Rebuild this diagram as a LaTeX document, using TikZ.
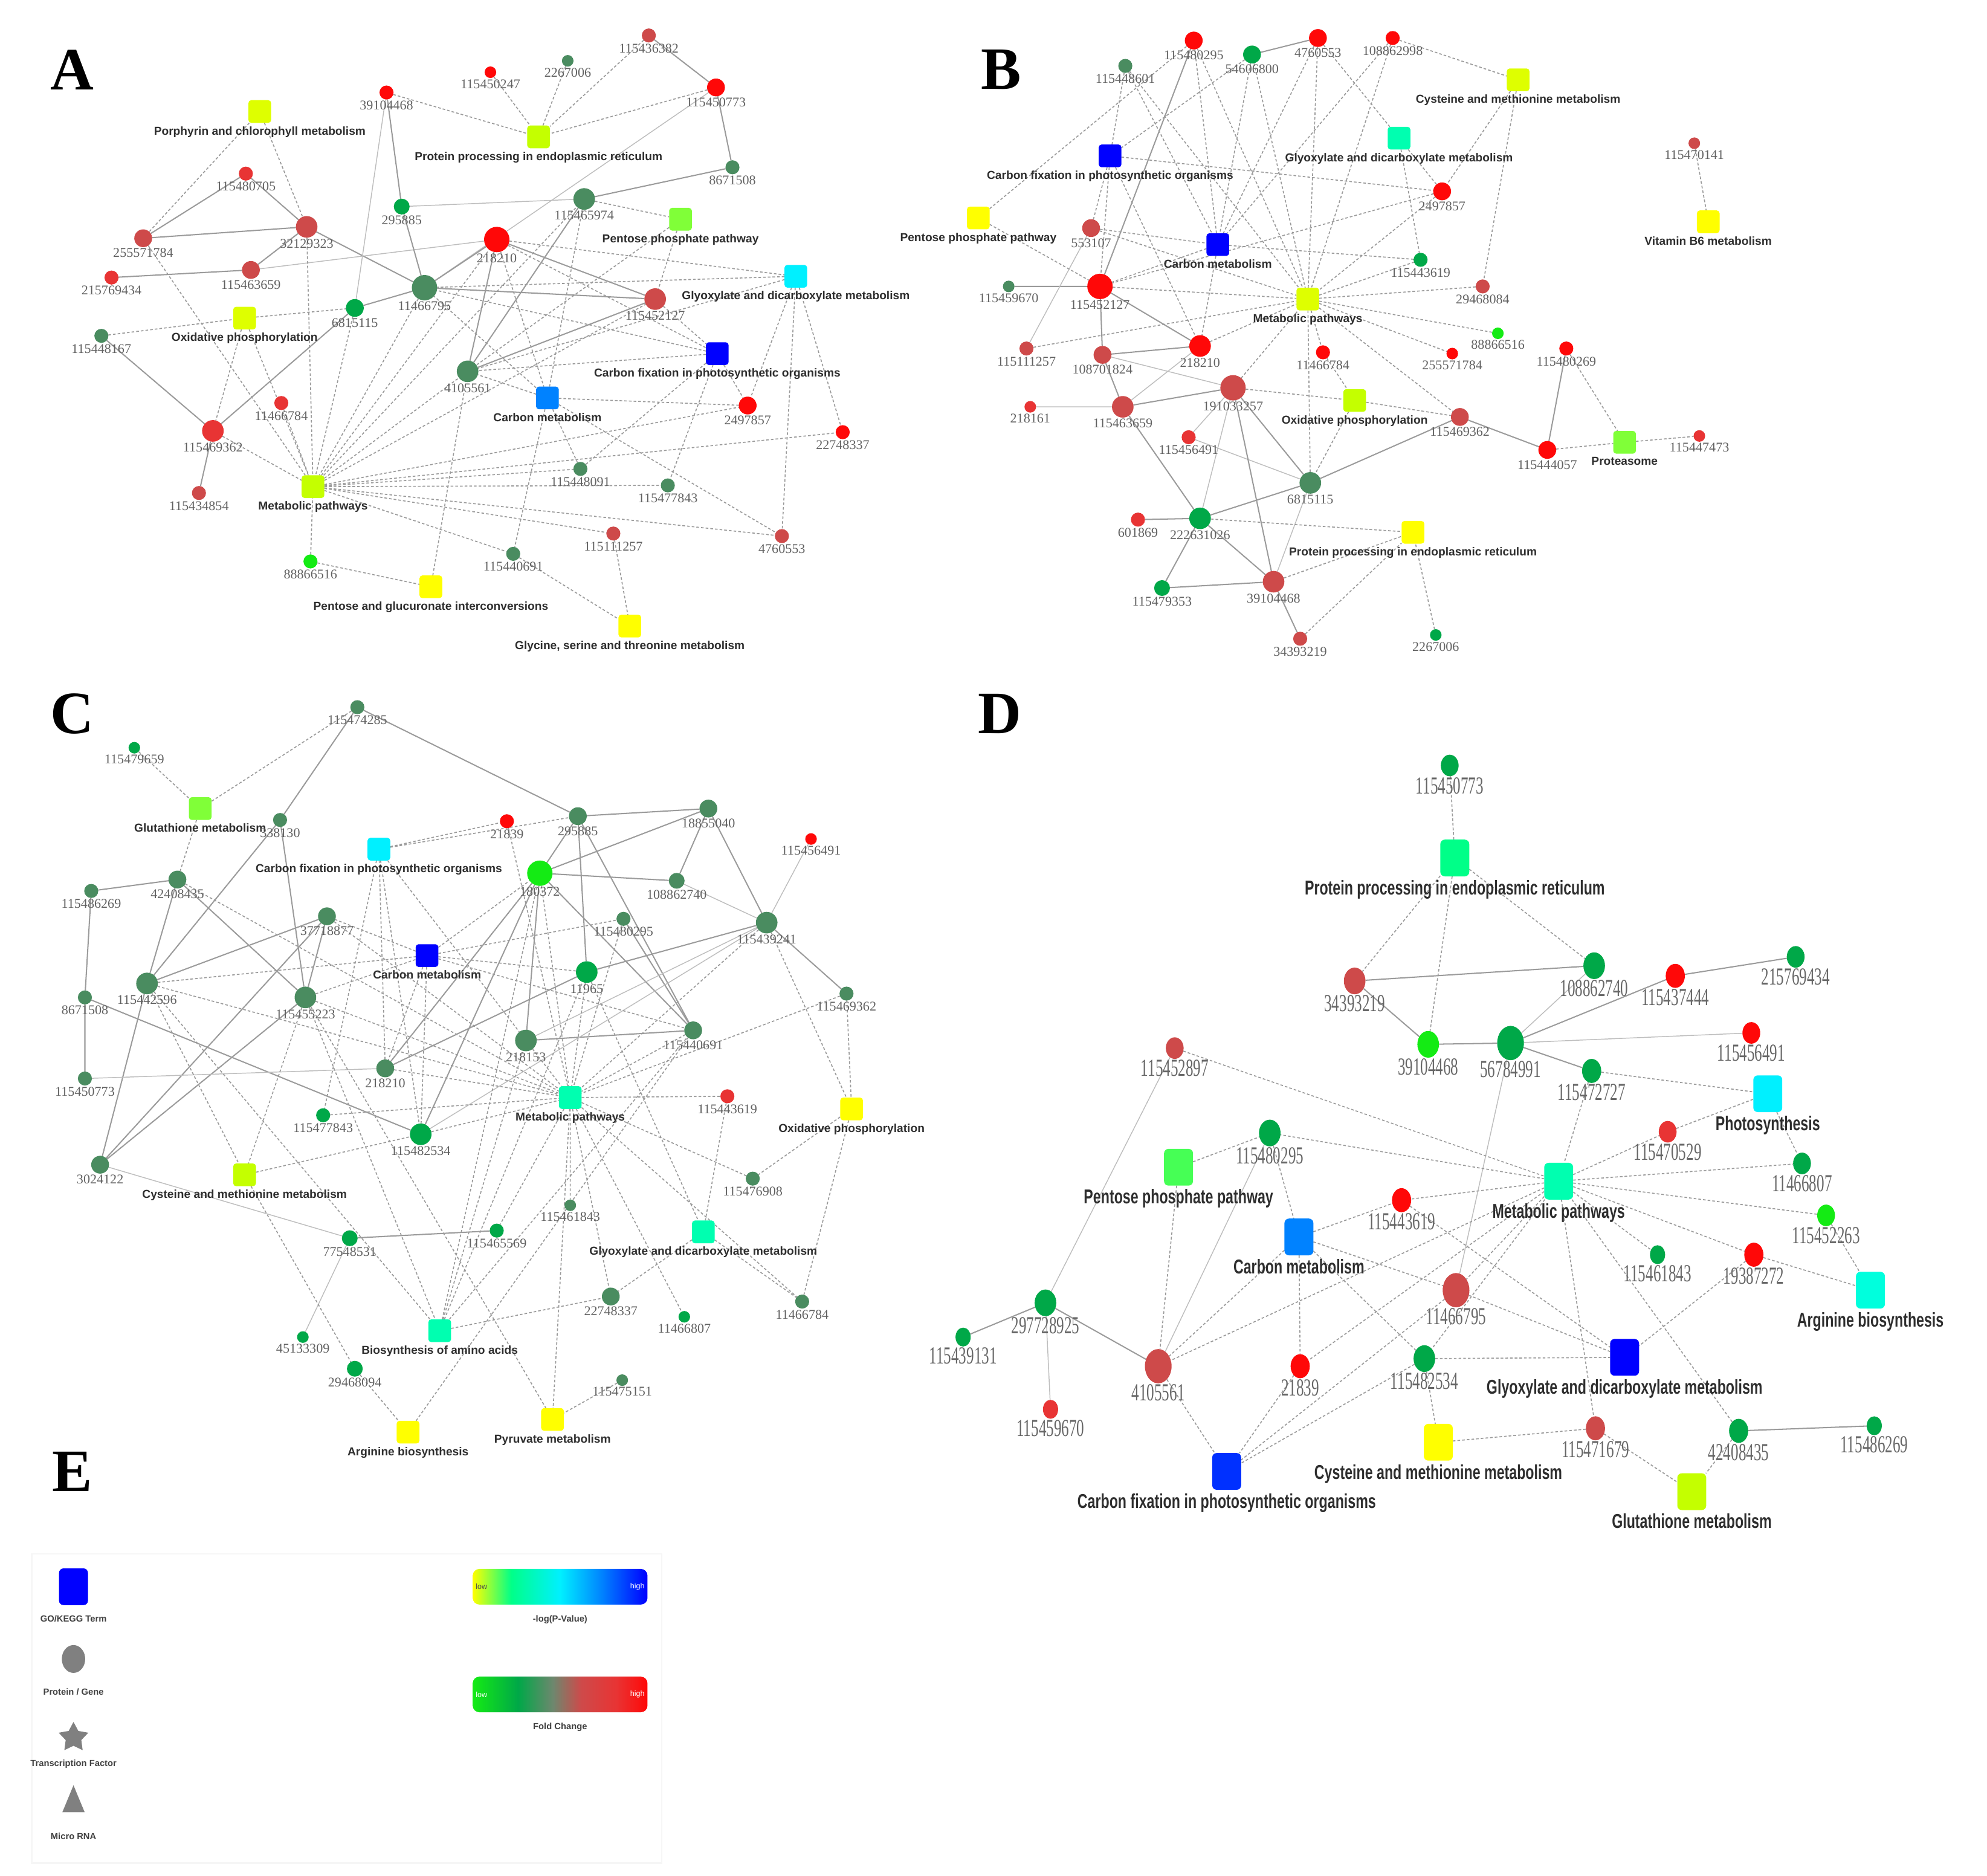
\documentclass[tikz,border=0pt]{standalone}
\usepackage{fontspec}
\setmainfont{Liberation Serif}
\newfontfamily\termfont{Liberation Sans}
\newfontfamily\termfontD[FakeStretch=0.7]{Liberation Sans}
\newfontfamily\numfontD[FakeStretch=0.62]{Liberation Serif}
\usetikzlibrary{shapes.geometric,backgrounds}

\definecolor{fcRed}{RGB}{255,8,8}
\definecolor{fcRedB}{RGB}{232,52,52}
\definecolor{fcRedC}{RGB}{206,74,74}
\definecolor{fcGrnA}{RGB}{20,235,20}
\definecolor{fcGrnB}{RGB}{0,168,72}
\definecolor{fcGrnC}{RGB}{74,140,96}
\definecolor{fcMid}{RGB}{110,135,110}
\definecolor{pvYel}{RGB}{255,255,0}
\definecolor{pvYg}{RGB}{222,255,0}
\definecolor{pvLime}{RGB}{196,255,0}
\definecolor{pvLg}{RGB}{128,255,56}
\definecolor{pvPg}{RGB}{70,255,85}
\definecolor{pvCyan}{RGB}{0,240,255}
\definecolor{pvTeal}{RGB}{0,255,176}
\definecolor{pvMint}{RGB}{0,255,136}
\definecolor{pvAqua}{RGB}{0,255,221}
\definecolor{pvBlue}{RGB}{0,0,255}
\definecolor{pvRoyal}{RGB}{0,48,255}
\definecolor{pvSky}{RGB}{0,130,255}
\definecolor{lineGray}{RGB}{155,155,155}
\definecolor{lgGray}{RGB}{128,128,128}

\pgfdeclarehorizontalshading{pvshade}{100bp}{color(0bp)=(pvYel); color(25bp)=(pvYel); color(36bp)=(pvMint); color(50bp)=(pvCyan); color(62bp)=(pvSky); color(75bp)=(pvBlue); color(100bp)=(pvBlue)}
\pgfdeclarehorizontalshading{fcshade}{100bp}{color(0bp)=(fcGrnA); color(25bp)=(fcGrnA); color(38bp)=(fcGrnB); color(48bp)=(fcMid); color(56bp)=(fcRedC); color(66bp)=(fcRedB); color(75bp)=(fcRed); color(100bp)=(fcRed)}

\begin{document}
\begin{tikzpicture}[
        x=0.02cm, y=-0.02cm,
        gn/.style={circle, inner sep=0pt, outer sep=0pt},
        gSm/.style={gn, minimum size=5.2pt},
        gS/.style={gn, minimum size=6.3pt},
        gSp/.style={gn, minimum size=7.1pt},
        gM/.style={gn, minimum size=8pt},
        gL/.style={gn, minimum size=9.7pt},
        gXL/.style={gn, minimum size=11.4pt},
        tm/.style={rectangle, rounded corners=1.3pt, minimum size=10.2pt, inner sep=0pt, outer sep=0pt},
        dn/.style={ellipse, inner sep=0pt, outer sep=0pt},
        dSm/.style={dn, minimum width=6.8pt, minimum height=8.5pt},
        dS/.style={dn, minimum width=8pt, minimum height=9.7pt},
        dSp/.style={dn, minimum width=8.6pt, minimum height=10.8pt},
        dM/.style={dn, minimum width=9.7pt, minimum height=12pt},
        dL/.style={dn, minimum width=12pt, minimum height=15.4pt},
        dtm/.style={rectangle, rounded corners=2pt, minimum width=13pt, minimum height=16.5pt, inner sep=0pt, outer sep=0pt},
        every label/.style={font=\fontsize{6}{6}\selectfont, text=black!62, inner sep=0.4pt},
        tl/.style={font=\termfont\bfseries\fontsize{5.2}{5.2}\selectfont, text=black!82, inner sep=1.4pt},
        dnl/.style={font=\numfontD\fontsize{11}{11}\selectfont, text=black!60, inner sep=0.3pt},
        dtl/.style={font=\termfontD\bfseries\fontsize{9}{9}\selectfont, text=black!82, inner sep=1.5pt},
        lgl/.style={font=\termfont\bfseries\fontsize{4}{4}\selectfont, text=black!75, inner sep=0pt},
        lgt/.style={font=\termfont\fontsize{3.4}{3.4}\selectfont, inner sep=0pt},
        pan/.style={font=\bfseries\fontsize{27}{27}\selectfont, inner sep=0pt},
        sl/.style={lineGray, line width=0.55pt},
        fl/.style={lineGray!65, line width=0.4pt},
        dl/.style={lineGray, line width=0.45pt, dash pattern=on 1.2pt off 0.9pt}
    ]
    \useasboundingbox (0,0) rectangle (1568,1480);

    % panel A
    \node[pan] (pA) at (57,55) {A};
    \node[tm, fill=pvYg, label={[tl]below:Porphyrin and chlorophyll metabolism}] (aPor) at (205,88) {};
    \node[tm, fill=pvLime, label={[tl]below:Protein processing in endoplasmic reticulum}] (aPro) at (425,108) {};
    \node[tm, fill=pvLg, label={[tl]below:Pentose phosphate pathway}] (aPpp) at (537,173) {};
    \node[tm, fill=pvCyan, label={[tl]below:Glyoxylate and dicarboxylate metabolism}] (aGly) at (628,218) {};
    \node[tm, fill=pvYg, label={[tl]below:Oxidative phosphorylation}] (aOxi) at (193,251) {};
    \node[tm, fill=pvBlue, label={[tl]below:Carbon fixation in photosynthetic organisms}] (aCfx) at (566,279) {};
    \node[tm, fill=pvSky, label={[tl]below:Carbon metabolism}] (aCmt) at (432,314) {};
    \node[tm, fill=pvLime, label={[tl]below:Metabolic pathways}] (aMet) at (247,384) {};
    \node[tm, fill=pvYel, label={[tl]below:Pentose and glucuronate interconversions}] (aPgi) at (340,463) {};
    \node[tm, fill=pvYel, label={[tl]below:{Glycine, serine and threonine metabolism}}] (aGst) at (497,494) {};

    \node[gS, fill=fcRed, label=below:39104468] (a39104468) at (305,73) {};
    \node[gSm, fill=fcRed, label=below:115450247] (a115450247) at (387,57) {};
    \node[gSm, fill=fcGrnC, label=below:2267006] (a2267006) at (448,48) {};
    \node[gS, fill=fcRedC, label=below:115436382] (a115436382) at (512,28) {};
    \node[gM, fill=fcRed, label=below:115450773] (a115450773) at (565,69) {};
    \node[gS, fill=fcGrnC, label=below:8671508] (a8671508) at (578,132) {};
    \node[gS, fill=fcRedB, label=below:115480705] (a115480705) at (194,137) {};
    \node[gL, fill=fcRedC, label=below:32129323] (a32129323) at (242,179) {};
    \node[gM, fill=fcRedC, label=below:255571784] (a255571784) at (113,188) {};
    \node[gS, fill=fcRedB, label=below:215769434] (a215769434) at (88,219) {};
    \node[gM, fill=fcRedC, label=below:115463659] (a115463659) at (198,213) {};
    \node[gSp, fill=fcGrnB, label=below:295885] (a295885) at (317,163) {};
    \node[gL, fill=fcGrnC, label=below:115465974] (a115465974) at (461,157) {};
    \node[gXL, fill=fcRed, label=below:218210] (a218210) at (392,189) {};
    \node[gL, fill=fcRedC, label=below:115452127] (a115452127) at (517,236) {};
    \node[gXL, fill=fcGrnC, label=below:11466795] (a11466795) at (335,227) {};
    \node[gM, fill=fcGrnB, label=below:6815115] (a6815115) at (280,243) {};
    \node[gS, fill=fcGrnC, label=below:115448167] (a115448167) at (80,265) {};
    \node[gL, fill=fcGrnC, label=below:4105561] (a4105561) at (369,293) {};
    \node[gM, fill=fcRed, label=below:2497857] (a2497857) at (590,320) {};
    \node[gS, fill=fcRed, label=below:22748337] (a22748337) at (665,341) {};
    \node[gS, fill=fcRedB, label=below:11466784] (a11466784) at (222,318) {};
    \node[gL, fill=fcRedB, label=below:115469362] (a115469362) at (168,340) {};
    \node[gS, fill=fcRedC, label=below:115434854] (a115434854) at (157,389) {};
    \node[gS, fill=fcGrnC, label=below:115448091] (a115448091) at (458,370) {};
    \node[gS, fill=fcGrnC, label=below:115477843] (a115477843) at (527,383) {};
    \node[gS, fill=fcRedC, label=below:115111257] (a115111257) at (484,421) {};
    \node[gS, fill=fcRedC, label=below:4760553] (a4760553) at (617,423) {};
    \node[gS, fill=fcGrnC, label=below:115440691] (a115440691) at (405,437) {};
    \node[gS, fill=fcGrnA, label=below:88866516] (a88866516) at (245,443) {};

    % panel B
    \node[pan] (pB) at (790,55) {B};
    \node[tm, fill=pvBlue, label={[tl]below:Carbon fixation in photosynthetic organisms}] (bCfx) at (876,123) {};
    \node[tm, fill=pvYel, label={[tl]below:Pentose phosphate pathway}] (bPpp) at (772,172) {};
    \node[tm, fill=pvBlue, label={[tl]below:Carbon metabolism}] (bCmt) at (961,193) {};
    \node[tm, fill=pvTeal, label={[tl]below:Glyoxylate and dicarboxylate metabolism}] (bGly) at (1104,109) {};
    \node[tm, fill=pvYg, label={[tl]below:Cysteine and methionine metabolism}] (bCys) at (1198,63) {};
    \node[tm, fill=pvYg, label={[tl]below:Metabolic pathways}] (bMet) at (1032,236) {};
    \node[tm, fill=pvLime, label={[tl]below:Oxidative phosphorylation}] (bOxi) at (1069,316) {};
    \node[tm, fill=pvYel, label={[tl]below:Protein processing in endoplasmic reticulum}] (bPro) at (1115,420) {};
    \node[tm, fill=pvLg, label={[tl]below:Proteasome}] (bPsm) at (1282,349) {};
    \node[tm, fill=pvYel, label={[tl]below:Vitamin B6 metabolism}] (bVb6) at (1348,175) {};

    \node[gS, fill=fcGrnC, label=below:115448601] (b115448601) at (888,52) {};
    \node[gM, fill=fcRed, label=below:115480295] (b115480295) at (942,32) {};
    \node[gM, fill=fcGrnB, label=below:54606800] (b54606800) at (988,43) {};
    \node[gM, fill=fcRed, label=below:4760553] (b4760553) at (1040,30) {};
    \node[gS, fill=fcRed, label=below:108862998] (b108862998) at (1099,30) {};
    \node[gM, fill=fcRedC, label=below:553107] (b553107) at (861,180) {};
    \node[gM, fill=fcRed, label=below:2497857] (b2497857) at (1138,151) {};
    \node[gS, fill=fcGrnB, label=below:115443619] (b115443619) at (1121,205) {};
    \node[gXL, fill=fcRed, label=below:115452127] (b115452127) at (868,226) {};
    \node[gSm, fill=fcGrnC, label=below:115459670] (b115459670) at (796,226) {};
    \node[gS, fill=fcRedC, label=below:115111257] (b115111257) at (810,275) {};
    \node[gM, fill=fcRedC, label=below:108701824] (b108701824) at (870,280) {};
    \node[gL, fill=fcRed, label=below:218210] (b218210) at (947,273) {};
    \node[gS, fill=fcRed, label=below:11466784] (b11466784) at (1044,278) {};
    \node[gSm, fill=fcRed, label=below:255571784] (b255571784) at (1146,279) {};
    \node[gXL, fill=fcRedC, label=below:191033257] (b191033257) at (973,306) {};
    \node[gSm, fill=fcRedB, label=below:218161] (b218161) at (813,321) {};
    \node[gL, fill=fcRedC, label=below:115463659] (b115463659) at (886,321) {};
    \node[gS, fill=fcRedB, label=below:115456491] (b115456491) at (938,345) {};
    \node[gM, fill=fcRedC, label=below:115469362] (b115469362) at (1152,329) {};
    \node[gL, fill=fcGrnC, label=below:6815115] (b6815115) at (1034,381) {};
    \node[gS, fill=fcRedB, label=below:601869] (b601869) at (898,410) {};
    \node[gL, fill=fcGrnB, label=below:222631026] (b222631026) at (947,409) {};
    \node[gSp, fill=fcGrnB, label=below:115479353] (b115479353) at (917,464) {};
    \node[gL, fill=fcRedC, label=below:39104468] (b39104468) at (1005,459) {};
    \node[gS, fill=fcRedC, label=below:34393219] (b34393219) at (1026,504) {};
    \node[gSm, fill=fcGrnB, label=below:2267006] (b2267006) at (1133,501) {};
    \node[gS, fill=fcRedC, label=below:29468084] (b29468084) at (1170,226) {};
    \node[gSm, fill=fcGrnA, label=below:88866516] (b88866516) at (1182,263) {};
    \node[gS, fill=fcRed, label=below:115480269] (b115480269) at (1236,275) {};
    \node[gM, fill=fcRed, label=below:115444057] (b115444057) at (1221,355) {};
    \node[gSm, fill=fcRedB, label=below:115447473] (b115447473) at (1341,344) {};
    \node[gSm, fill=fcRedC, label=below:115470141] (b115470141) at (1337,113) {};

    % panel C
    \node[pan] (pC) at (57,563) {C};
    \node[tm, fill=pvLg, label={[tl]below:Glutathione metabolism}] (cGsh) at (158,638) {};
    \node[tm, fill=pvCyan, label={[tl]below:Carbon fixation in photosynthetic organisms}] (cCfx) at (299,670) {};
    \node[tm, fill=pvBlue, label={[tl]below:Carbon metabolism}] (cCmt) at (337,754) {};
    \node[tm, fill=pvLime, label={[tl]below:Cysteine and methionine metabolism}] (cCys) at (193,927) {};
    \node[tm, fill=pvTeal, label={[tl]below:Biosynthesis of amino acids}] (cBio) at (347,1050) {};
    \node[tm, fill=pvYel, label={[tl]below:Arginine biosynthesis}] (cArg) at (322,1130) {};
    \node[tm, fill=pvTeal, label={[tl]below:Metabolic pathways}] (cMet) at (450,866) {};
    \node[tm, fill=pvYel, label={[tl]below:Oxidative phosphorylation}] (cOxi) at (672,875) {};
    \node[tm, fill=pvTeal, label={[tl]below:Glyoxylate and dicarboxylate metabolism}] (cGly) at (555,972) {};
    \node[tm, fill=pvYel, label={[tl]below:Pyruvate metabolism}] (cPyr) at (436,1120) {};

    \node[gS, fill=fcGrnC, label=below:115474285] (c115474285) at (282,558) {};
    \node[gSm, fill=fcGrnB, label=below:115479659] (c115479659) at (106,590) {};
    \node[gS, fill=fcGrnC, label=below:338130] (c338130) at (221,647) {};
    \node[gS, fill=fcGrnC, label=below:115486269] (c115486269) at (72,703) {};
    \node[gM, fill=fcGrnC, label=below:42408435] (c42408435) at (140,694) {};
    \node[gM, fill=fcGrnC, label=below:37718877] (c37718877) at (258,723) {};
    \node[gL, fill=fcGrnC, label=below:115442596] (c115442596) at (116,776) {};
    \node[gS, fill=fcGrnC, label=below:8671508] (c8671508) at (67,787) {};
    \node[gL, fill=fcGrnC, label=below:115455223] (c115455223) at (241,787) {};
    \node[gM, fill=fcGrnC, label=below:218210] (c218210) at (304,843) {};
    \node[gS, fill=fcGrnC, label=below:115450773] (c115450773) at (67,851) {};
    \node[gS, fill=fcGrnB, label=below:115477843] (c115477843) at (255,880) {};
    \node[gL, fill=fcGrnB, label=below:115482534] (c115482534) at (332,895) {};
    \node[gM, fill=fcGrnC, label=below:3024122] (c3024122) at (79,919) {};
    \node[gSp, fill=fcGrnB, label=below:77548531] (c77548531) at (276,977) {};
    \node[gSm, fill=fcGrnB, label=below:45133309] (c45133309) at (239,1055) {};
    \node[gSp, fill=fcGrnB, label=below:29468094] (c29468094) at (280,1080) {};
    \node[gS, fill=fcRed, label=below:21839] (c21839) at (400,648) {};
    \node[gM, fill=fcGrnC, label=below:295885] (c295885) at (456,644) {};
    \node[gM, fill=fcGrnC, label=below:18855040] (c18855040) at (559,638) {};
    \node[gSm, fill=fcRed, label=below:115456491] (c115456491) at (640,662) {};
    \node[gXL, fill=fcGrnA, label=below:180372] (c180372) at (426,689) {};
    \node[gSp, fill=fcGrnC, label=below:108862740] (c108862740) at (534,695) {};
    \node[gS, fill=fcGrnC, label=below:115480295] (c115480295) at (492,725) {};
    \node[gL, fill=fcGrnC, label=below:115439241] (c115439241) at (605,728) {};
    \node[gL, fill=fcGrnB, label=below:11965] (c11965) at (463,767) {};
    \node[gS, fill=fcGrnC, label=below:115469362] (c115469362) at (668,784) {};
    \node[gM, fill=fcGrnC, label=below:115440691] (c115440691) at (547,813) {};
    \node[gL, fill=fcGrnC, label=below:218153] (c218153) at (415,821) {};
    \node[gS, fill=fcRedB, label=below:115443619] (c115443619) at (574,865) {};
    \node[gS, fill=fcGrnC, label=below:115476908] (c115476908) at (594,930) {};
    \node[gSm, fill=fcGrnC, label=below:115461843] (c115461843) at (450,951) {};
    \node[gS, fill=fcGrnB, label=below:115465569] (c115465569) at (392,971) {};
    \node[gM, fill=fcGrnC, label=below:22748337] (c22748337) at (482,1023) {};
    \node[gSm, fill=fcGrnB, label=below:11466807] (c11466807) at (540,1039) {};
    \node[gS, fill=fcGrnC, label=below:11466784] (c11466784) at (633,1027) {};
    \node[gSm, fill=fcGrnC, label=below:115475151] (c115475151) at (491,1089) {};

    % panel D
    \node[pan] (pD) at (789,563) {D};
    \node[dtm, fill=pvMint, label={[dtl]below:Protein processing in endoplasmic reticulum}] (dPro) at (1148,677) {};
    \node[dtm, fill=pvCyan, label={[dtl]below:Photosynthesis}] (dPho) at (1395,863) {};
    \node[dtm, fill=pvPg, label={[dtl]below:Pentose phosphate pathway}] (dPpp) at (930,921) {};
    \node[dtm, fill=pvTeal, label={[dtl]below:Metabolic pathways}] (dMet) at (1230,932) {};
    \node[dtm, fill=pvSky, label={[dtl]below:Carbon metabolism}] (dCmt) at (1025,976) {};
    \node[dtm, fill=pvAqua, label={[dtl]below:Arginine biosynthesis}] (dArg) at (1476,1018) {};
    \node[dtm, fill=pvBlue, label={[dtl]below:Glyoxylate and dicarboxylate metabolism}] (dGly) at (1282,1071) {};
    \node[dtm, fill=pvYel, label={[dtl]below:Cysteine and methionine metabolism}] (dCys) at (1135,1138) {};
    \node[dtm, fill=pvRoyal, label={[dtl]below:Carbon fixation in photosynthetic organisms}] (dCfx) at (968,1161) {};
    \node[dtm, fill=pvLime, label={[dtl]below:Glutathione metabolism}] (dGsh) at (1335,1177) {};

    \node[dS, fill=fcGrnB, label={[dnl]below:115450773}] (d115450773) at (1144,604) {};
    \node[dM, fill=fcRedC, label={[dnl]below:34393219}] (d34393219) at (1069,774) {};
    \node[dM, fill=fcGrnB, label={[dnl]below:108862740}] (d108862740) at (1258,762) {};
    \node[dSp, fill=fcRed, label={[dnl]below:115437444}] (d115437444) at (1322,770) {};
    \node[dS, fill=fcGrnB, label={[dnl]below:215769434}] (d215769434) at (1417,755) {};
    \node[dM, fill=fcGrnA, label={[dnl]below:39104468}] (d39104468) at (1127,824) {};
    \node[dL, fill=fcGrnB, label={[dnl]below:56784991}] (d56784991) at (1192,823) {};
    \node[dS, fill=fcRed, label={[dnl]below:115456491}] (d115456491) at (1382,815) {};
    \node[dS, fill=fcRedC, label={[dnl]below:115452897}] (d115452897) at (927,827) {};
    \node[dSp, fill=fcGrnB, label={[dnl]below:115472727}] (d115472727) at (1256,845) {};
    \node[dM, fill=fcGrnB, label={[dnl]below:115480295}] (d115480295) at (1002,894) {};
    \node[dS, fill=fcRedB, label={[dnl]below:115470529}] (d115470529) at (1316,893) {};
    \node[dS, fill=fcGrnB, label={[dnl]below:11466807}] (d11466807) at (1422,918) {};
    \node[dSp, fill=fcRed, label={[dnl]below:115443619}] (d115443619) at (1106,947) {};
    \node[dS, fill=fcGrnA, label={[dnl]below:115452263}] (d115452263) at (1441,959) {};
    \node[dSm, fill=fcGrnB, label={[dnl]below:115461843}] (d115461843) at (1308,990) {};
    \node[dSp, fill=fcRed, label={[dnl]below:19387272}] (d19387272) at (1384,990) {};
    \node[dL, fill=fcRedC, label={[dnl]below:11466795}] (d11466795) at (1149,1018) {};
    \node[dM, fill=fcGrnB, label={[dnl]below:297728925}] (d297728925) at (825,1028) {};
    \node[dSm, fill=fcGrnB, label={[dnl]below:115439131}] (d115439131) at (760,1055) {};
    \node[dL, fill=fcRedC, label={[dnl]below:4105561}] (d4105561) at (914,1078) {};
    \node[dSp, fill=fcRed, label={[dnl]below:21839}] (d21839) at (1026,1078) {};
    \node[dM, fill=fcGrnB, label={[dnl]below:115482534}] (d115482534) at (1124,1072) {};
    \node[dSm, fill=fcRedB, label={[dnl]below:115459670}] (d115459670) at (829,1112) {};
    \node[dSp, fill=fcRedC, label={[dnl]below:115471679}] (d115471679) at (1259,1127) {};
    \node[dSp, fill=fcGrnB, label={[dnl]below:42408435}] (d42408435) at (1372,1129) {};
    \node[dSm, fill=fcGrnB, label={[dnl]below:115486269}] (d115486269) at (1479,1125) {};

    % panel E
    \node[pan] (pE) at (57,1161) {E};
    \draw[gray!7, line width=0.6pt] (25,1226) rectangle (522,1470);
    \node[dtm, fill=pvBlue] (eTerm) at (58,1252) {};
    \node[lgl] (eTermTx) at (58,1277) {GO/KEGG Term};
    \node[ellipse, fill=lgGray, minimum width=10.5pt, minimum height=12.5pt, inner sep=0pt] (eGene) at (58,1309) {};
    \node[lgl] (eGeneTx) at (58,1335) {Protein / Gene};
    \node[star, star points=5, star point ratio=1.9, fill=lgGray, minimum size=14pt, inner sep=0pt] (eTf) at (58,1371) {};
    \node[lgl] (eTfTx) at (58,1392) {Transcription Factor};
    \node[isosceles triangle, isosceles triangle apex angle=45, shape border rotate=90, fill=lgGray, minimum size=10pt, inner sep=0pt] (eMir) at (58,1424) {};
    \node[lgl] (eMirTx) at (58,1449) {Micro RNA};
    \node[rounded corners=3pt, minimum width=78.5pt, minimum height=16pt, inner sep=0pt, shade, shading=pvshade] (ePv) at (442,1252) {};
    \node[lgt, text=black!70] (ePvLo) at (380,1252) {low};
    \node[lgt, text=white] (ePvHi) at (503,1252) {high};
    \node[lgl] (ePvTx) at (442,1278) {-log(P-Value)};
    \node[rounded corners=3pt, minimum width=78.5pt, minimum height=16pt, inner sep=0pt, shade, shading=fcshade] (eFc) at (442,1337) {};
    \node[lgt, text=white] (eFcLo) at (380,1337) {low};
    \node[lgt, text=white] (eFcHi) at (503,1337) {high};
    \node[lgl] (eFcTx) at (442,1363) {Fold Change};

    \begin{scope}[on background layer]
        % A edges
        \draw[sl] (a115480705) -- (a255571784) (a115480705) -- (a32129323) (a255571784) -- (a32129323);
        \draw[sl] (a32129323) -- (a115463659) (a215769434) -- (a115463659) (a32129323) -- (a11466795);
        \draw[fl] (a115463659) -- (a218210) (a39104468) -- (a6815115) (a295885) -- (a115465974) (a115450773) -- (a11466795);
        \draw[sl] (a39104468) -- (a295885) (a295885) -- (a11466795) (a6815115) -- (a11466795);
        \draw[sl] (a115448167) -- (a115469362) (a115469362) -- (a6815115) (a115469362) -- (a115434854);
        \draw[sl] (a11466795) -- (a218210) (a218210) -- (a4105561) (a218210) -- (a115452127);
        \draw[sl] (a115465974) -- (a4105561) (a115452127) -- (a4105561) (a115452127) -- (a11466795);
        \draw[sl] (a115436382) -- (a115450773) (a115450773) -- (a8671508) (a8671508) -- (a115465974);
        \draw[dl] (aPor) -- (a255571784) (aPor) -- (a32129323) (a255571784) -- (aMet) (a32129323) -- (aMet);
        \draw[dl] (a115448167) -- (aOxi) (aOxi) -- (a6815115) (aOxi) -- (a115469362) (aOxi) -- (aMet);
        \draw[dl] (a11466784) -- (aMet) (a115469362) -- (aMet) (a6815115) -- (aMet) (a11466795) -- (aMet);
        \draw[dl] (a88866516) -- (aMet) (a88866516) -- (aPgi) (aPgi) -- (a4105561);
        \draw[dl] (a39104468) -- (aPro) (a115450247) -- (aPro) (a2267006) -- (aPro) (a115436382) -- (aPro) (a115450773) -- (aPro);
        \draw[dl] (a115465974) -- (aPpp) (a115465974) -- (aCmt) (a218210) -- (aGly) (a218210) -- (aCfx) (a218210) -- (aCmt);
        \draw[dl] (aPpp) -- (a115452127) (aPpp) -- (a4105561) (a115452127) -- (aCfx);
        \draw[dl] (aGly) -- (a11466795) (aGly) -- (a2497857) (aGly) -- (a4760553) (aGly) -- (a22748337) (aGly) -- (a4105561);
        \draw[dl] (aCfx) -- (a4105561) (aCfx) -- (a115448091) (aCfx) -- (a115477843) (aCfx) -- (a2497857) (aCfx) -- (a11466795);
        \draw[dl] (aCmt) -- (a4105561) (aCmt) -- (a2497857) (aCmt) -- (a115448091) (aCmt) -- (a4760553) (aCmt) -- (a115440691) (aCmt) -- (a11466795);
        \draw[dl] (aMet) -- (a4105561) (aMet) -- (a218210) (aMet) -- (a115452127) (aMet) -- (a115465974);
        \draw[dl] (aMet) -- (a115448091) (aMet) -- (a115477843) (aMet) -- (a115111257) (aMet) -- (a4760553);
        \draw[dl] (aMet) -- (a115440691) (aMet) -- (a22748337) (aMet) -- (a2497857);
        \draw[dl] (a115111257) -- (aGst) (a115440691) -- (aGst);

        % B edges
        \draw[sl] (b115480295) -- (b115452127) (b54606800) -- (b4760553) (b115459670) -- (b115452127);
        \draw[sl] (b115452127) -- (b218210) (b115452127) -- (b108701824) (b108701824) -- (b218210) (b108701824) -- (b115463659);
        \draw[fl] (b553107) -- (b115111257) (b108701824) -- (b191033257) (b218210) -- (b115463659) (b191033257) -- (b222631026);
        \draw[fl] (b191033257) -- (b115456491) (b218161) -- (b115463659) (b115456491) -- (b6815115) (b6815115) -- (b39104468);
        \draw[sl] (b191033257) -- (b115463659) (b191033257) -- (b6815115) (b191033257) -- (b39104468) (b115463659) -- (b222631026);
        \draw[sl] (b6815115) -- (b222631026) (b6815115) -- (b115469362) (b601869) -- (b222631026) (b222631026) -- (b115479353);
        \draw[sl] (b222631026) -- (b39104468) (b115479353) -- (b39104468) (b39104468) -- (b34393219);
        \draw[sl] (b115469362) -- (b115444057) (b115444057) -- (b115480269);
        \draw[dl] (bPpp) -- (b115480295) (bPpp) -- (b115452127);
        \draw[dl] (b115448601) -- (bCfx) (b115448601) -- (bCmt) (b115448601) -- (bMet);
        \draw[dl] (b115480295) -- (bCmt) (b115480295) -- (bMet) (b54606800) -- (bCfx) (b54606800) -- (bCmt) (b54606800) -- (bMet);
        \draw[dl] (b4760553) -- (bCmt) (b4760553) -- (bMet) (b4760553) -- (bGly);
        \draw[dl] (b108862998) -- (bCmt) (b108862998) -- (bMet) (b108862998) -- (bCys) (bCys) -- (b2497857) (bCys) -- (b29468084);
        \draw[dl] (bCfx) -- (b553107) (bCfx) -- (b115452127) (bCfx) -- (b2497857) (bCfx) -- (b218210);
        \draw[dl] (b553107) -- (bCmt) (b553107) -- (bMet) (bCmt) -- (b115452127) (bCmt) -- (b218210) (bCmt) -- (b115443619);
        \draw[dl] (bGly) -- (b2497857) (bGly) -- (b115443619) (b2497857) -- (bMet) (b2497857) -- (b115452127);
        \draw[dl] (b115452127) -- (bMet) (b115111257) -- (bMet) (b218210) -- (bMet) (b191033257) -- (bMet) (b191033257) -- (bOxi);
        \draw[dl] (bMet) -- (b6815115) (bMet) -- (b11466784) (bMet) -- (b255571784) (bMet) -- (b115469362);
        \draw[dl] (bMet) -- (b29468084) (bMet) -- (b88866516) (bMet) -- (b115443619);
        \draw[dl] (b11466784) -- (bOxi) (bOxi) -- (b115469362) (bOxi) -- (b6815115);
        \draw[dl] (b222631026) -- (bPro) (b39104468) -- (bPro) (b34393219) -- (bPro) (b2267006) -- (bPro);
        \draw[dl] (b115444057) -- (bPsm) (b115480269) -- (bPsm) (bPsm) -- (b115447473) (b115470141) -- (bVb6);

        % C edges
        \draw[sl] (c115474285) -- (c338130) (c115474285) -- (c295885) (c338130) -- (c115455223) (c338130) -- (c115442596);
        \draw[sl] (c42408435) -- (c115486269) (c42408435) -- (c115442596) (c42408435) -- (c115455223);
        \draw[sl] (c115486269) -- (c8671508) (c8671508) -- (c115450773) (c8671508) -- (c115482534);
        \draw[sl] (c115442596) -- (c37718877) (c115442596) -- (c3024122) (c3024122) -- (c37718877) (c3024122) -- (c115455223);
        \draw[sl] (c37718877) -- (c115455223) (c218210) -- (c180372) (c218210) -- (c11965) (c115482534) -- (c180372);
        \draw[sl] (c77548531) -- (c115465569) (c295885) -- (c18855040) (c295885) -- (c180372) (c295885) -- (c11965);
        \draw[sl] (c295885) -- (c115440691) (c18855040) -- (c108862740) (c18855040) -- (c180372) (c18855040) -- (c115439241);
        \draw[sl] (c180372) -- (c108862740) (c180372) -- (c218153) (c180372) -- (c115440691);
        \draw[sl] (c115439241) -- (c115469362) (c115439241) -- (c11965) (c115480295) -- (c115440691) (c115440691) -- (c218153);
        \draw[fl] (c115450773) -- (c218210) (c3024122) -- (c77548531) (c77548531) -- (c45133309) (c108862740) -- (c115439241);
        \draw[fl] (c115456491) -- (c115439241) (c218153) -- (c115439241) (c115482534) -- (c115439241);
        \draw[dl] (c115474285) -- (cGsh) (c115479659) -- (cGsh) (cGsh) -- (c42408435);
        \draw[dl] (c115442596) -- (cCmt) (c115442596) -- (cMet) (c115442596) -- (cCys) (c115442596) -- (cBio);
        \draw[dl] (c115455223) -- (cCys) (c115455223) -- (cCmt) (c115455223) -- (cBio) (c115455223) -- (cMet) (c115455223) -- (cPyr);
        \draw[dl] (c42408435) -- (cMet) (cCfx) -- (c218210) (cCfx) -- (c115482534) (cCfx) -- (c115477843);
        \draw[dl] (cCfx) -- (c21839) (cCfx) -- (c295885) (cCfx) -- (c218153);
        \draw[dl] (cCmt) -- (c218210) (cCmt) -- (c115482534) (cCmt) -- (c180372) (cCmt) -- (c11965);
        \draw[dl] (cCmt) -- (c115440691) (cCmt) -- (c115480295) (cCmt) -- (c37718877);
        \draw[dl] (c37718877) -- (cMet) (c115477843) -- (cMet) (c115482534) -- (cMet) (c218210) -- (cMet);
        \draw[dl] (cCys) -- (c115482534) (cCys) -- (c29468094) (c29468094) -- (cArg);
        \draw[dl] (cBio) -- (c180372) (cBio) -- (c218153) (cBio) -- (c11965) (cBio) -- (c22748337) (cBio) -- (c115440691);
        \draw[dl] (cArg) -- (c115440691) (c21839) -- (cMet) (c180372) -- (cMet) (c218153) -- (cMet) (c11965) -- (cMet);
        \draw[dl] (c115480295) -- (cMet) (c115440691) -- (cMet) (c115469362) -- (cMet) (c115439241) -- (cMet);
        \draw[dl] (cMet) -- (c115443619) (cMet) -- (c115476908) (cMet) -- (c115461843) (cMet) -- (c22748337);
        \draw[dl] (cMet) -- (c11466807) (cMet) -- (c11466784) (cMet) -- (cPyr) (cMet) -- (c115465569);
        \draw[dl] (c115443619) -- (cGly) (c11965) -- (cGly) (c115439241) -- (cOxi) (c115469362) -- (cOxi);
        \draw[dl] (cOxi) -- (c115476908) (cOxi) -- (c11466784) (cGly) -- (c22748337) (cGly) -- (c11466784) (c115475151) -- (cPyr);

        % D edges
        \draw[sl] (d34393219) -- (d108862740) (d34393219) -- (d39104468) (d39104468) -- (d56784991);
        \draw[sl] (d56784991) -- (d115437444) (d56784991) -- (d115472727) (d115437444) -- (d215769434);
        \draw[sl] (d297728925) -- (d115439131) (d297728925) -- (d4105561) (d42408435) -- (d115486269);
        \draw[fl] (d56784991) -- (d108862740) (d56784991) -- (d115456491) (d56784991) -- (d11466795);
        \draw[fl] (d115452897) -- (d297728925) (d115480295) -- (d4105561) (d297728925) -- (d115459670);
        \draw[dl] (d115450773) -- (dPro) (dPro) -- (d34393219) (dPro) -- (d39104468) (dPro) -- (d108862740);
        \draw[dl] (d115472727) -- (dPho) (d115472727) -- (dMet) (d115452897) -- (dMet);
        \draw[dl] (dMet) -- (d115470529) (d115470529) -- (dPho) (dPho) -- (d11466807);
        \draw[dl] (dMet) -- (d115480295) (dMet) -- (d11466807) (dMet) -- (d115443619) (dMet) -- (d115452263);
        \draw[dl] (dMet) -- (d115461843) (dMet) -- (d19387272) (dMet) -- (d11466795) (dMet) -- (d4105561);
        \draw[dl] (dMet) -- (d115482534) (dMet) -- (d21839) (dMet) -- (d115471679) (dMet) -- (d42408435);
        \draw[dl] (dPpp) -- (d115480295) (dPpp) -- (d4105561) (d115480295) -- (dCmt);
        \draw[dl] (dCmt) -- (d115443619) (dCmt) -- (d4105561) (dCmt) -- (d21839) (dCmt) -- (d11466795) (dCmt) -- (d115482534);
        \draw[dl] (d115443619) -- (dGly) (d11466795) -- (dGly) (d11466795) -- (dCfx);
        \draw[dl] (d19387272) -- (dArg) (d19387272) -- (dGly) (d115452263) -- (dArg);
        \draw[dl] (d4105561) -- (dCfx) (d115482534) -- (dGly) (d115482534) -- (dCys) (d115482534) -- (dCfx) (d21839) -- (dCfx);
        \draw[dl] (dCys) -- (d115471679) (d115471679) -- (dGsh) (d42408435) -- (dGsh);
    \end{scope}
\end{tikzpicture}
\end{document}
